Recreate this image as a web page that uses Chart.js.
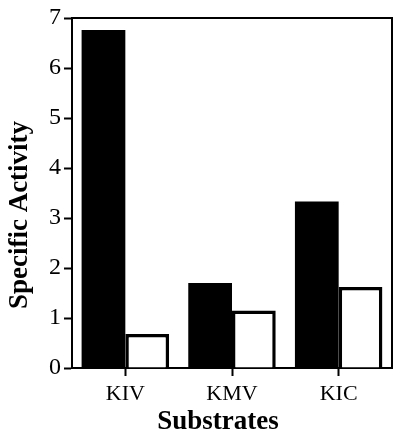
<!DOCTYPE html>
<html>
<head>
<meta charset="utf-8">
<script src="https://cdn.jsdelivr.net/npm/chart.js@4"></script>
<style>
  html, body { margin: 0; padding: 0; background: #fff; }
  #wrap { width: 400px; height: 439px; }
</style>
</head>
<body>
<div id="wrap"><canvas id="chart" width="400" height="439"></canvas></div>
<script>
// Substrates on the x axis
const substrates = ['KIV', 'KMV', 'KIC'];
// Filled bars
const blackValues = [6.76, 1.7, 3.33];
// Open bars
const whiteValues = [0.68, 1.15, 1.62];
const yTicks = [0, 1, 2, 3, 4, 5, 6, 7];

const serif = "'Liberation Serif', 'Times New Roman', serif";

// frame round the plot plus the two axis titles
const framePlugin = {
  id: 'frame',
  afterDraw(chart) {
    const { ctx, chartArea: a } = chart;
    ctx.save();
    ctx.strokeStyle = '#000';
    ctx.lineWidth = 2;
    ctx.beginPath();
    ctx.moveTo(a.left, a.top);
    ctx.lineTo(a.right, a.top);
    ctx.lineTo(a.right, a.bottom);
    ctx.stroke();

    ctx.fillStyle = '#000';
    ctx.font = 'bold 27px ' + serif;
    ctx.textAlign = 'center';
    ctx.textBaseline = 'middle';
    ctx.fillText('Substrates', 218, 422);

    ctx.translate(20, 215);
    ctx.rotate(-Math.PI / 2);
    ctx.fillText('Specific Activity', 0, 0);
    ctx.restore();
  }
};

new Chart(document.getElementById('chart'), {
  type: 'bar',
  data: {
    labels: substrates,
    datasets: [
      {
        data: blackValues,
        backgroundColor: '#000',
        borderColor: '#000',
        borderWidth: 0
      },
      {
        data: whiteValues,
        backgroundColor: '#fff',
        borderColor: '#000',
        borderWidth: 3.5
      }
    ]
  },
  options: {
    responsive: false,
    animation: false,
    datasets: {
      bar: { categoryPercentage: 0.82, barPercentage: 1 }
    },
    layout: { padding: { top: 18, right: 8, left: 0, bottom: 0 } },
    plugins: {
      legend: { display: false },
      tooltip: { enabled: false }
    },
    scales: {
      x: {
        afterFit: s => { s.height = 71; },
        border: { display: true, color: '#000', width: 2 },
        grid: {
          offset: false,
          drawOnChartArea: false,
          drawTicks: true,
          tickLength: 8,
          tickWidth: 2,
          color: '#000'
        },
        ticks: {
          color: '#000',
          padding: 5,
          font: { family: serif, size: 22 }
        }
      },
      y: {
        min: 0,
        max: 7,
        afterFit: s => { s.width = 72; },
        afterBuildTicks: s => { s.ticks = yTicks.map(v => ({ value: v })); },
        border: { display: true, color: '#000', width: 2 },
        grid: {
          drawOnChartArea: false,
          drawTicks: true,
          tickLength: 8,
          tickWidth: 2,
          color: '#000'
        },
        ticks: {
          color: '#000',
          padding: 3,
          font: { family: serif, size: 24 }
        }
      }
    }
  },
  plugins: [framePlugin]
});
</script>
</body>
</html>
